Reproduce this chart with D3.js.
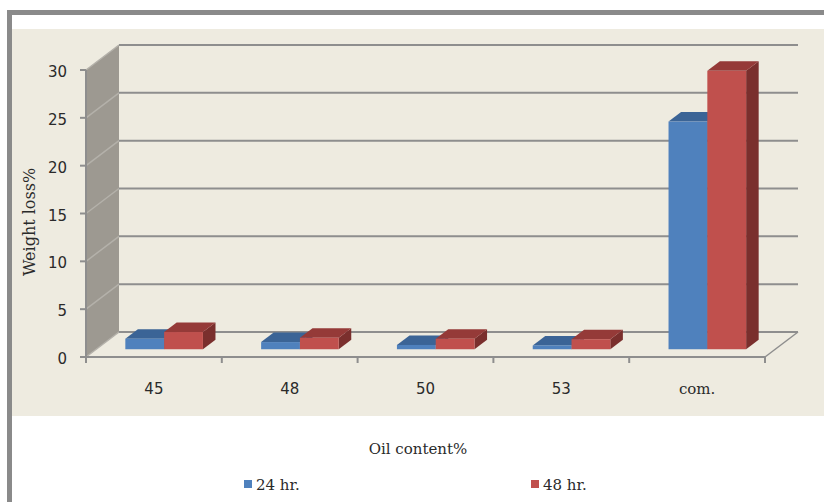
<!DOCTYPE html>
<html>
<head>
<meta charset="utf-8">
<script src="https://cdn.jsdelivr.net/npm/d3@7"></script>
<style>
  html, body { margin: 0; padding: 0; background: #fff; }
  svg { display: block; }
  text { font-family: "DejaVu Serif", "Liberation Serif", serif; fill: #2a2a2a; }
  text.num { font-family: "DejaVu Sans", Verdana, sans-serif; }
</style>
</head>
<body>
<svg id="chart" width="824" height="502"></svg>
<script>
// Weight loss (%) by oil content, after 24 and 48 hours
const categories = ["45", "48", "50", "53", "com."];
const seriesNames = ["24 hr.", "48 hr."];
const loss24 = [1.1, 0.75, 0.45, 0.4, 23.8];
const loss48 = [1.8, 1.2, 1.1, 1.05, 29.1];
const yTicks = [0, 5, 10, 15, 20, 25, 30];

const seriesValues = [loss24, loss48];
const frontColors = ["#4f81bd", "#c0504d"];
const topColors = ["#3b6496", "#953a38"];
const sideColors = ["#2f5480", "#7a2f2d"];

const svg = d3.select("#chart");

// outer frame and panel
svg.append("rect").attr("x", 12).attr("y", 29).attr("width", 812).attr("height", 387).attr("fill", "#eeebe0");
svg.append("rect").attr("x", 7).attr("y", 10).attr("width", 817).attr("height", 5).attr("fill", "#8a8a8a");
svg.append("rect").attr("x", 7).attr("y", 10).attr("width", 5).attr("height", 492).attr("fill", "#8a8a8a");

// 3-D projection: depth offset of the back wall
const DX = 33, DY = -25;
const x = d3.scaleBand().domain(categories).range([86, 765]).paddingInner(0).paddingOuter(0);
const xs = d3.scaleBand().domain(seriesNames).range([0, x.bandwidth()]).paddingInner(0).paddingOuter(0.75);
const y = d3.scaleLinear().domain([0, 30]).range([357, 70]);

const x0 = x.range()[0], x1 = x.range()[1];
const g = svg.append("g");

// left side wall
g.append("path")
  .attr("d", `M${x0},${y(30)} L${x0 + DX},${y(30) + DY} L${x0 + DX},${y(0) + DY} L${x0},${y(0)} Z`)
  .attr("fill", "#9d9991");

// diagonal gridlines on the side wall
g.selectAll(".sideGrid").data(yTicks).join("line")
  .attr("x1", x0).attr("y1", d => y(d))
  .attr("x2", x0 + DX).attr("y2", d => y(d) + DY)
  .attr("stroke", "#b4b1aa").attr("stroke-width", 1.5);

// back wall gridlines
g.selectAll(".backGrid").data(yTicks).join("line")
  .attr("x1", x0 + DX).attr("y1", d => y(d) + DY)
  .attr("x2", x1 + DX).attr("y2", d => y(d) + DY)
  .attr("stroke", "#8e8e8e").attr("stroke-width", 2);

// floor outline
g.append("path")
  .attr("d", `M${x1},${y(0)} L${x1 + DX},${y(0) + DY}`)
  .attr("stroke", "#8e8e8e").attr("stroke-width", 1.5).attr("fill", "none");

// bars
const F1 = 0.31, F2 = 0.69;
const dx1 = DX * F1, dy1 = DY * F1, dx2 = DX * F2, dy2 = DY * F2;
const bars = [];
categories.forEach((c, i) => {
  seriesNames.forEach((s, j) => {
    bars.push({ c, s, j, v: seriesValues[j][i] });
  });
});
const barG = g.selectAll(".bar").data(bars).join("g");
barG.each(function (d) {
  const sel = d3.select(this);
  const left = x(d.c) + xs(d.s);
  const right = left + xs.bandwidth();
  const yt = y(d.v), yb = y(0);
  // right side face
  sel.append("path")
    .attr("d", `M${right + dx1},${yt + dy1} L${right + dx2},${yt + dy2} L${right + dx2},${yb + dy2} L${right + dx1},${yb + dy1} Z`)
    .attr("fill", sideColors[d.j]);
  // top face
  sel.append("path")
    .attr("d", `M${left + dx1},${yt + dy1} L${right + dx1},${yt + dy1} L${right + dx2},${yt + dy2} L${left + dx2},${yt + dy2} Z`)
    .attr("fill", topColors[d.j]);
  // front face
  sel.append("rect")
    .attr("x", left + dx1).attr("y", yt + dy1)
    .attr("width", xs.bandwidth()).attr("height", yb - yt)
    .attr("fill", frontColors[d.j]);
});

// front axes
g.append("line").attr("x1", x0).attr("x2", x1).attr("y1", y(0)).attr("y2", y(0))
  .attr("stroke", "#8e8e8e").attr("stroke-width", 2);
g.append("line").attr("x1", x0).attr("x2", x0).attr("y1", y(30)).attr("y2", y(0))
  .attr("stroke", "#8e8e8e").attr("stroke-width", 2);

// y ticks and labels
g.selectAll(".yt").data(yTicks).join("line")
  .attr("x1", x0 - 6).attr("x2", x0).attr("y1", d => y(d)).attr("y2", d => y(d))
  .attr("stroke", "#8e8e8e").attr("stroke-width", 2);
g.selectAll(".yl").data(yTicks).join("text")
  .attr("class", "num")
  .attr("x", 67).attr("y", d => y(d) + 7)
  .attr("text-anchor", "end").attr("font-size", 15)
  .text(d => d);

// x ticks at category boundaries
const xTickPos = categories.map(c => x(c)).concat([x1]);
g.selectAll(".xt").data(xTickPos).join("line")
  .attr("x1", d => d).attr("x2", d => d).attr("y1", y(0)).attr("y2", y(0) + 6)
  .attr("stroke", "#8e8e8e").attr("stroke-width", 2);
g.selectAll(".xl").data(categories).join("text")
  .attr("class", d => isNaN(+d) ? null : "num")
  .attr("x", d => x(d) + x.bandwidth() / 2).attr("y", 394)
  .attr("text-anchor", "middle").attr("font-size", 15)
  .text(d => d);

// axis titles
svg.append("text")
  .attr("transform", "translate(35,222) rotate(-90)")
  .attr("text-anchor", "middle").attr("font-size", 16)
  .text("Weight loss%");
svg.append("text")
  .attr("x", 418).attr("y", 454)
  .attr("text-anchor", "middle").attr("font-size", 15)
  .text("Oil content%");

// legend
const legendX = [244, 531];
const lg = svg.selectAll(".lg").data(seriesNames).join("g")
  .attr("transform", (d, i) => `translate(${legendX[i]},480)`);
lg.append("rect").attr("width", 8).attr("height", 8).attr("fill", (d, i) => frontColors[i]);
lg.append("text").attr("x", 12).attr("y", 10).attr("font-size", 15).text(d => d);
</script>
</body>
</html>
